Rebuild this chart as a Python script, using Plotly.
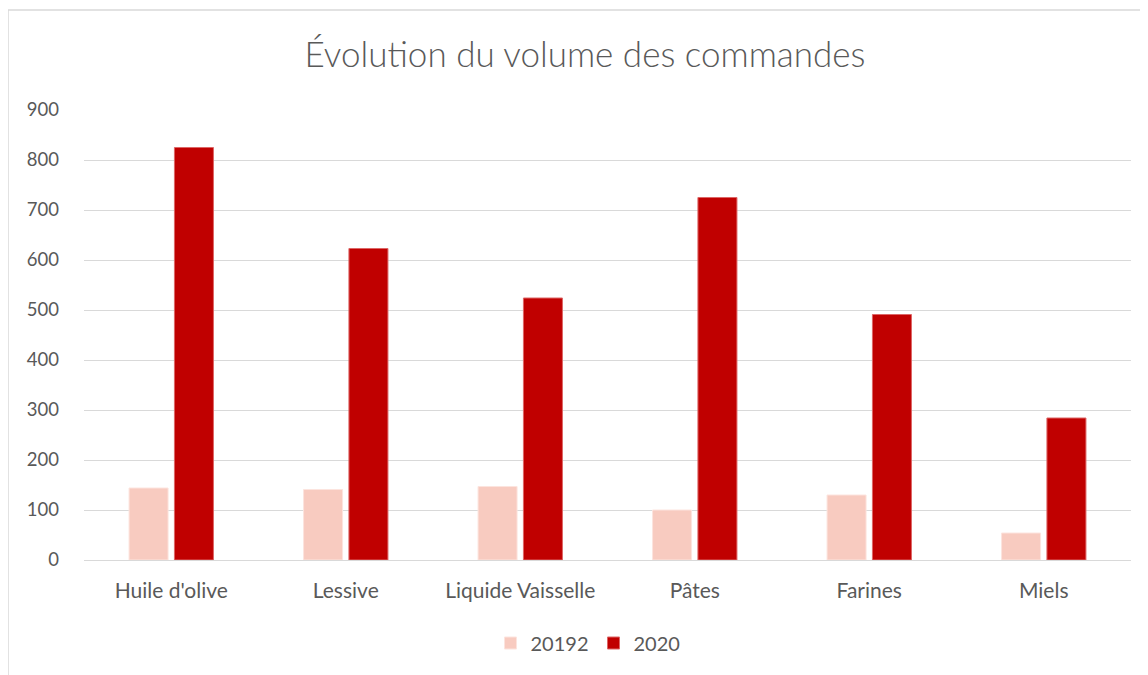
import plotly.graph_objects as go

categories = ["Huile d'olive", "Lessive", "Liquide Vaisselle", "Pâtes", "Farines", "Miels"]
series_2019_name = "20192"
series_2020_name = "2020"
values_2019 = [144, 141, 147, 100, 130, 54]
values_2020 = [825, 623, 524, 725, 491, 284]
y_ticks = [0, 100, 200, 300, 400, 500, 600, 700, 800, 900]

FONT = "Lato, 'Open Sans', sans-serif"
OFF = 8  # page body margin
W, H = 1148 - OFF, 675 - OFF
# target screen coordinates of plot area
PX0, PX1, PY0, PY1 = 84, 1131, 110, 560
L, R = PX0 - OFF, W - (PX1 - OFF)
T, B = PY0 - OFF, H - (PY1 - OFF)
pw = PX1 - PX0
ph = PY1 - PY0

fig = go.Figure()
fig.add_trace(go.Bar(x=categories, y=values_2019, name=series_2019_name,
                     marker=dict(color="#F8CBC0", line=dict(color="#FCE4DE", width=1))))
fig.add_trace(go.Bar(x=categories, y=values_2020, name=series_2020_name,
                     marker=dict(color="#C00000", line=dict(color="#DD6666", width=1))))

fig.add_shape(type="rect", xref="paper", yref="paper",
              x0=(8 - PX0) / pw, x1=(1200 - PX0) / pw,
              y0=-(720 - PY1) / ph, y1=(PY1 - 10) / ph,
              line=dict(color="#D9D9D9", width=1.5), fillcolor="rgba(0,0,0,0)", layer="below")

fig.update_layout(
    width=W, height=H,
    margin=dict(l=L, r=R, t=T, b=B, pad=0),
    paper_bgcolor="white", plot_bgcolor="white",
    title=dict(text="Évolution du volume des commandes", x=(585 - OFF) / W, xanchor="center",
               y=1 - (55 - OFF) / H, yanchor="middle",
               font=dict(family=FONT, size=35, color="#595959", weight=300)),
    barmode="group", bargap=0.48, bargroupgap=0.14,
    showlegend=True,
    legend=dict(orientation="h", x=(588 - PX0) / pw, xanchor="center", y=(PY1 - 643) / ph, yanchor="middle",
                font=dict(family=FONT, size=20, color="#595959"), itemwidth=30,
                traceorder="normal"),
    xaxis=dict(showgrid=False, showline=False, zeroline=False, ticks="",
               tickfont=dict(family=FONT, size=21, color="#595959"), ticklabelstandoff=16),
    yaxis=dict(range=[0, 900], tickvals=y_ticks, showgrid=True, gridcolor="#D9D9D9", gridwidth=1,
               zeroline=True, zerolinecolor="#D9D9D9", zerolinewidth=1, showline=False, ticks="",
               tickfont=dict(family=FONT, size=18.5, color="#595959"), ticklabelstandoff=24),
)

fig.write_html("out.html")
